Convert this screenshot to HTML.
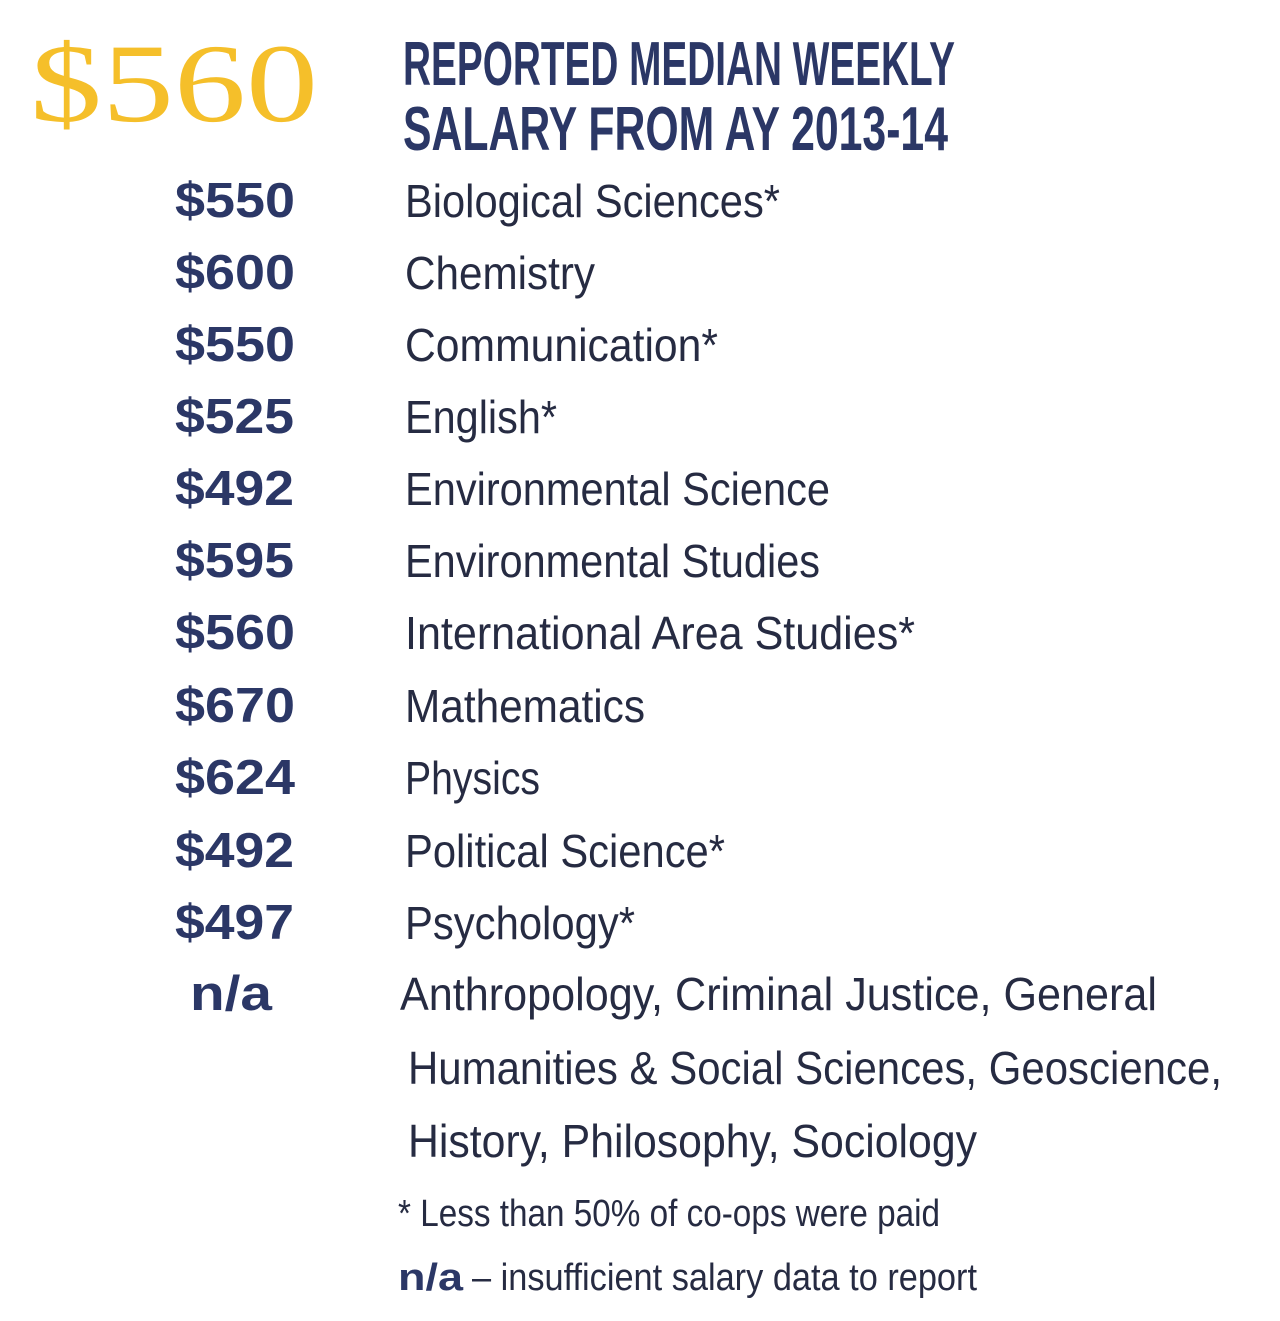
<!DOCTYPE html>
<html>
<head>
<meta charset="utf-8">
<style>
html,body{margin:0;padding:0;background:#fff;}
svg{display:block;}
.num{font-family:"Liberation Sans",sans-serif;font-weight:bold;font-size:49px;fill:#2b3766;}
.lab{font-family:"Liberation Sans",sans-serif;font-size:46px;fill:#262b42;}
.ttl{font-family:"Liberation Sans Narrow","Liberation Sans",sans-serif;font-weight:bold;font-size:62px;fill:#2b3766;}
.ft{font-family:"Liberation Sans Narrow","Liberation Sans",sans-serif;font-size:38px;fill:#262b42;}
.ftb{font-family:"Liberation Sans",sans-serif;font-weight:bold;font-size:38px;fill:#2b3766;}
</style>
</head>
<body>
<svg width="1280" height="1321" viewBox="0 0 1280 1321" xmlns="http://www.w3.org/2000/svg">
<rect width="1280" height="1321" fill="#fff"/>
<text x="30" y="121" font-family="Liberation Serif,serif" font-size="112" fill="#f5bf2a" textLength="288" lengthAdjust="spacingAndGlyphs">$560</text>

<text class="ttl" x="403" y="85" textLength="552" lengthAdjust="spacingAndGlyphs">REPORTED MEDIAN WEEKLY</text>
<text class="ttl" x="403" y="150" textLength="545" lengthAdjust="spacingAndGlyphs">SALARY FROM AY 2013-14</text>

<text class="num" x="175" y="217" textLength="120" lengthAdjust="spacingAndGlyphs">$550</text>
<text class="num" x="175" y="289" textLength="120" lengthAdjust="spacingAndGlyphs">$600</text>
<text class="num" x="175" y="361" textLength="120" lengthAdjust="spacingAndGlyphs">$550</text>
<text class="num" x="175" y="433" textLength="119" lengthAdjust="spacingAndGlyphs">$525</text>
<text class="num" x="175" y="505" textLength="119" lengthAdjust="spacingAndGlyphs">$492</text>
<text class="num" x="175" y="577" textLength="119" lengthAdjust="spacingAndGlyphs">$595</text>
<text class="num" x="175" y="649" textLength="120" lengthAdjust="spacingAndGlyphs">$560</text>
<text class="num" x="175" y="722" textLength="120" lengthAdjust="spacingAndGlyphs">$670</text>
<text class="num" x="175" y="794" textLength="120" lengthAdjust="spacingAndGlyphs">$624</text>
<text class="num" x="175" y="867" textLength="119" lengthAdjust="spacingAndGlyphs">$492</text>
<text class="num" x="175" y="939" textLength="119" lengthAdjust="spacingAndGlyphs">$497</text>
<text class="num" x="190" y="1010" textLength="82" lengthAdjust="spacingAndGlyphs">n/a</text>

<text class="lab" x="405" y="217" textLength="375" lengthAdjust="spacingAndGlyphs">Biological Sciences*</text>
<text class="lab" x="405" y="289" textLength="190" lengthAdjust="spacingAndGlyphs">Chemistry</text>
<text class="lab" x="405" y="361" textLength="313" lengthAdjust="spacingAndGlyphs">Communication*</text>
<text class="lab" x="405" y="433" textLength="152" lengthAdjust="spacingAndGlyphs">English*</text>
<text class="lab" x="405" y="505" textLength="425" lengthAdjust="spacingAndGlyphs">Environmental Science</text>
<text class="lab" x="405" y="577" textLength="415" lengthAdjust="spacingAndGlyphs">Environmental Studies</text>
<text class="lab" x="405" y="649" textLength="510" lengthAdjust="spacingAndGlyphs">International Area Studies*</text>
<text class="lab" x="405" y="722" textLength="240" lengthAdjust="spacingAndGlyphs">Mathematics</text>
<text class="lab" x="405" y="794" textLength="135" lengthAdjust="spacingAndGlyphs">Physics</text>
<text class="lab" x="405" y="867" textLength="320" lengthAdjust="spacingAndGlyphs">Political Science*</text>
<text class="lab" x="405" y="939" textLength="230" lengthAdjust="spacingAndGlyphs">Psychology*</text>
<text class="lab" x="400" y="1010" textLength="757" lengthAdjust="spacingAndGlyphs">Anthropology, Criminal Justice, General</text>
<text class="lab" x="408" y="1084" textLength="814" lengthAdjust="spacingAndGlyphs">Humanities &amp; Social Sciences, Geoscience,</text>
<text class="lab" x="408" y="1157" textLength="569" lengthAdjust="spacingAndGlyphs">History, Philosophy, Sociology</text>

<text class="ft" x="398" y="1226" textLength="542" lengthAdjust="spacingAndGlyphs">* Less than 50% of co-ops were paid</text>
<text class="ftb" x="398" y="1290" textLength="65" lengthAdjust="spacingAndGlyphs">n/a</text>
<text class="ft" x="472" y="1290" textLength="505" lengthAdjust="spacingAndGlyphs">– insufficient salary data to report</text>
</svg>
</body>
</html>
